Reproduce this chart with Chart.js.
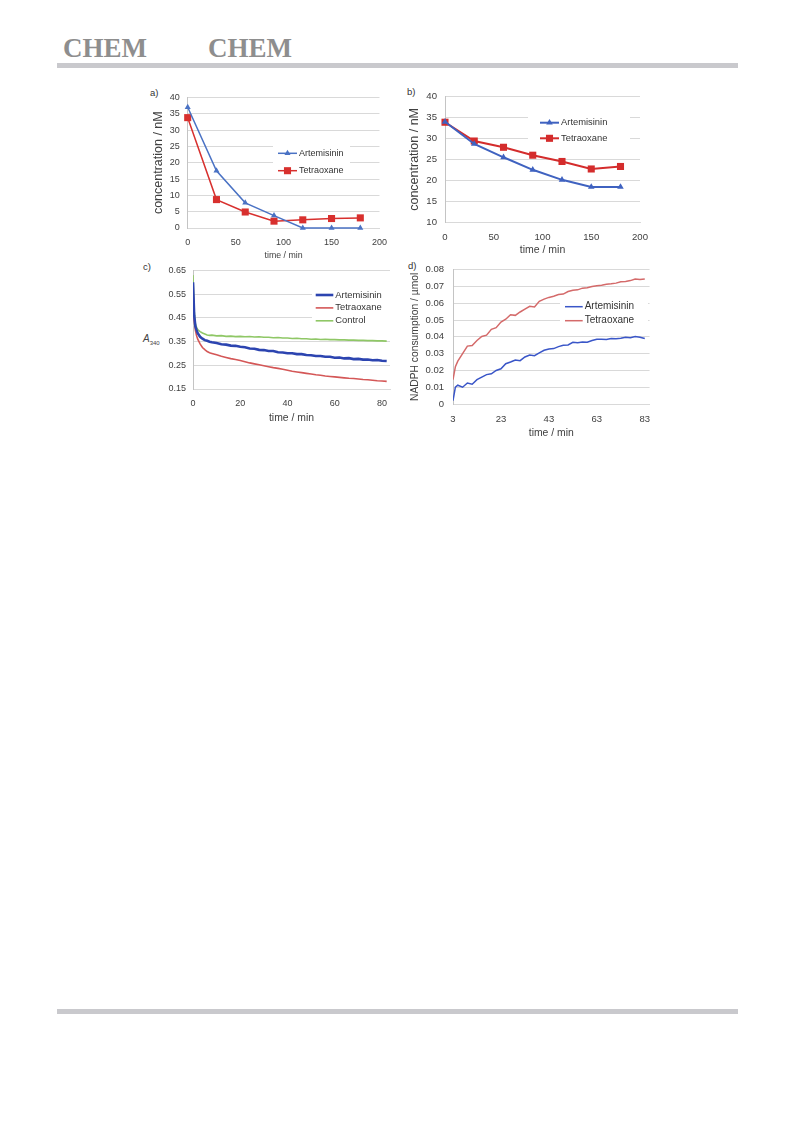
<!DOCTYPE html>
<html>
<head>
<meta charset="utf-8">
<script src="https://cdn.jsdelivr.net/npm/chart.js@4.4.1/dist/chart.umd.min.js"></script>
<style>
body { margin: 0; background: #fff; font-family: "Liberation Sans", Arial, sans-serif; }
#page { position: relative; width: 793px; height: 1121px; overflow: hidden; }
.hd { position: absolute; top: 35px; font: bold 27px/27px "Liberation Serif", serif; color: #8e8e8e; }
.bar { position: absolute; left: 57px; width: 681px; height: 5px; background: #c9c9cd; }
.pl { position: absolute; font-size: 9.5px; line-height: 10px; color: #333; }
canvas { position: absolute; }
</style>
</head>
<body>
<div id="page">
  <div class="hd" style="left:63px">CHEM</div>
  <div class="hd" style="left:208px">CHEM</div>
  <div class="bar" style="top:63px"></div>
  <div class="bar" style="top:1009px"></div>

  <div class="pl" style="left:150px;top:88px">a)</div>
  <div class="pl" style="left:407px;top:87px">b)</div>
  <div class="pl" style="left:143px;top:262px">c)</div>
  <div class="pl" style="left:408px;top:261px">d)</div>
  <div class="pl" style="left:143px;top:334px;font-size:10px;color:#444"><i>A</i><sub style="font-size:6px">340</sub></div>

  <canvas id="chart-a" width="256" height="177" style="left:140px;top:84px"></canvas>
  <canvas id="chart-b" width="260" height="177" style="left:400px;top:83px"></canvas>
  <canvas id="chart-c" width="260" height="172" style="left:140px;top:258px"></canvas>
  <canvas id="chart-d" width="260" height="190" style="left:400px;top:255px"></canvas>
</div>

<script>
// a) and b): concentration vs time
const timeAB = [0, 30, 60, 90, 120, 150, 180];
const artA = [37, 17.5, 7.7, 3.8, 0, 0, 0];
const tetA = [33.8, 8.7, 4.9, 2.1, 2.5, 2.9, 3.1];
const artB = [34, 28.7, 25.5, 22.5, 20.1, 18.4, 18.4];
const tetB = [33.9, 29.4, 27.9, 26, 24.5, 22.7, 23.3];

// c) A340 vs time
const timeC = [0, 0.5, 1, 1.5, 2, 3, 4, 5, 6, 7, 8, 10, 12, 14, 16, 18, 20, 22, 24, 26, 28, 30, 32, 34, 36, 38, 40,
	42, 44, 46, 48, 50, 52, 54, 56, 58, 60, 62, 64, 66, 68, 70, 72, 74, 76, 78, 80, 82];
const artC = [0.600, 0.460, 0.415, 0.398, 0.385, 0.370, 0.362, 0.356, 0.353, 0.349, 0.347, 0.344, 0.339, 0.337, 0.333, 0.332,
	0.328, 0.326, 0.321, 0.320, 0.315, 0.314, 0.310, 0.310, 0.305, 0.304, 0.301, 0.301, 0.297, 0.297, 0.293, 0.292, 0.289,
	0.289, 0.286, 0.286, 0.282, 0.283, 0.279, 0.280, 0.276, 0.277, 0.274, 0.274, 0.271, 0.272, 0.269, 0.268];
const tetC = [0.580, 0.440, 0.398, 0.375, 0.360, 0.340, 0.325, 0.316, 0.308, 0.303, 0.300, 0.294, 0.288, 0.283, 0.278, 0.274,
	0.270, 0.265, 0.260, 0.256, 0.252, 0.248, 0.244, 0.240, 0.237, 0.233, 0.229, 0.225, 0.222, 0.219, 0.216, 0.213, 0.210,
	0.208, 0.205, 0.203, 0.201, 0.199, 0.197, 0.195, 0.194, 0.192, 0.190, 0.189, 0.187, 0.185, 0.184, 0.182];
const ctlC = [0.630, 0.480, 0.425, 0.410, 0.400, 0.392, 0.386, 0.382, 0.378, 0.376, 0.377, 0.374, 0.375, 0.372, 0.373, 0.371,
	0.372, 0.370, 0.371, 0.369, 0.370, 0.368, 0.368, 0.366, 0.367, 0.365, 0.365, 0.363, 0.364, 0.362, 0.362, 0.360, 0.361,
	0.359, 0.360, 0.358, 0.358, 0.357, 0.357, 0.356, 0.356, 0.355, 0.355, 0.354, 0.354, 0.353, 0.353, 0.352];
const xTicksC = [0, 20, 40, 60, 80];
const yTicksC = [0.15, 0.25, 0.35, 0.45, 0.55, 0.65];

// d) NADPH consumption vs time
const timeD = [3, 4, 5, 7, 9, 11, 13, 15, 17, 19, 21, 23, 25, 27, 29, 31, 33, 35, 37, 39, 41, 43, 45, 47, 49, 51, 53,
	55, 57, 59, 61, 63, 65, 67, 69, 71, 73, 75, 77, 79, 81, 83];
const artD = [0.0020, 0.0100, 0.0112, 0.0100, 0.0125, 0.0118, 0.0145, 0.0160, 0.0175, 0.0180, 0.0200, 0.0210, 0.0240,
	0.0250, 0.0262, 0.0258, 0.0280, 0.0292, 0.0288, 0.0305, 0.0320, 0.0328, 0.0330, 0.0342, 0.0350, 0.0352, 0.0368,
	0.0365, 0.0370, 0.0368, 0.0378, 0.0385, 0.0386, 0.0384, 0.0390, 0.0388, 0.0392, 0.0398, 0.0395, 0.0402, 0.0398, 0.0390];
const tetD = [0.0145, 0.0222, 0.0255, 0.0300, 0.0345, 0.0348, 0.0378, 0.0402, 0.0410, 0.0445, 0.0455, 0.0488, 0.0505,
	0.0532, 0.0528, 0.0548, 0.0565, 0.0582, 0.0578, 0.0612, 0.0625, 0.0635, 0.0642, 0.0652, 0.0655, 0.0670, 0.0678,
	0.0680, 0.0690, 0.0693, 0.0700, 0.0705, 0.0708, 0.0713, 0.0716, 0.0720, 0.0728, 0.0730, 0.0735, 0.0745, 0.0742, 0.0745];
const xTicksD = [3, 23, 43, 63, 83];

const FONT = '"Liberation Sans", Arial, sans-serif';
const GRID = '#d9d9d9';
const TEXT = '#404040';

const pts = (xs, ys) => xs.map((x, i) => ({x: x, y: ys[i]}));

// legend drawn inside the plot, on a white box
const boxLegend = {
	id: 'boxLegend',
	beforeDatasetsDraw(chart, args, opts) {
		if (!opts.box) return;
		const ctx = chart.ctx;
		ctx.save();
		ctx.fillStyle = '#fff';
		ctx.fillRect(opts.box[0], opts.box[1], opts.box[2], opts.box[3]);
		ctx.restore();
	},
	afterDraw(chart, args, opts) {
		const ctx = chart.ctx;
		ctx.save();
		chart.data.datasets.forEach((ds, i) => {
			const y = opts.y + i * opts.gap;
			ctx.strokeStyle = ds.borderColor;
			ctx.lineWidth = ds.borderWidth;
			ctx.beginPath();
			ctx.moveTo(opts.x, y);
			ctx.lineTo(opts.x + opts.len, y);
			ctx.stroke();
			const cx = opts.x + opts.len / 2;
			ctx.fillStyle = ds.borderColor;
			if (ds.pointStyle === 'triangle') {
				const r = ds.pointRadius;
				ctx.beginPath();
				ctx.moveTo(cx, y - r);
				ctx.lineTo(cx + r * 0.866, y + r / 2);
				ctx.lineTo(cx - r * 0.866, y + r / 2);
				ctx.closePath();
				ctx.fill();
			} else if (ds.pointStyle === 'rect') {
				const s = ds.pointRadius * Math.SQRT1_2;
				ctx.fillRect(cx - s, y - s, 2 * s, 2 * s);
			}
			ctx.fillStyle = '#333';
			ctx.font = opts.size + 'px ' + FONT;
			ctx.textBaseline = 'middle';
			ctx.fillText(ds.label, opts.x + opts.len + 2, y);
		});
		ctx.restore();
	}
};

function scaleX(o) {
	return {
		type: 'linear',
		min: o.min, max: o.max,
		afterFit: s => { s.height = o.h; },
		afterBuildTicks: o.ticks ? (s => { s.ticks = o.ticks.map(v => ({value: v})); }) : undefined,
		grid: {drawOnChartArea: false, drawTicks: false},
		border: {color: GRID},
		ticks: {stepSize: o.step, padding: o.pad, color: TEXT, font: {family: FONT, size: o.font}, maxRotation: 0, autoSkip: false},
		title: {display: true, text: 'time / min', color: TEXT, padding: {top: 0, bottom: o.tpad}, font: {family: FONT, size: o.tfont}}
	};
}

function scaleY(o) {
	return {
		min: o.min, max: o.max,
		afterFit: s => { s.width = o.w; },
		afterBuildTicks: o.ticks ? (s => { s.ticks = o.ticks.map(v => ({value: v})); }) : undefined,
		grid: {color: GRID, drawTicks: false},
		border: {color: '#c4c4c4'},
		ticks: {stepSize: o.step, padding: o.pad, color: TEXT, font: {family: FONT, size: o.font}, callback: o.fmt},
		title: {display: !!o.text, text: o.text, color: TEXT, padding: {top: o.tpad, bottom: 0}, font: {family: FONT, size: o.tfont}}
	};
}

function baseOptions(pad, x, y, legend) {
	return {
		responsive: false,
		animation: false,
		layout: {padding: pad},
		elements: {line: {tension: 0}},
		plugins: {legend: {display: false}, tooltip: {enabled: false}, boxLegend: legend},
		scales: {x: x, y: y}
	};
}

document.addEventListener('DOMContentLoaded', () => {
	new Chart(document.getElementById('chart-a'), {
		type: 'line',
		data: {datasets: [
			{label: 'Artemisinin', data: pts(timeAB, artA), borderColor: '#4a72c4', backgroundColor: '#4a72c4',
				borderWidth: 1.5, pointStyle: 'triangle', pointRadius: 3.5, pointBorderWidth: 0, clip: false},
			{label: 'Tetraoxane', data: pts(timeAB, tetA), borderColor: '#d8302e', backgroundColor: '#d8302e',
				borderWidth: 1.5, pointStyle: 'rect', pointRadius: 5, pointBorderWidth: 0, clip: false}
		]},
		options: baseOptions({left: 0, top: 12.3, right: 0, bottom: 0},
			scaleX({min: 0, max: 200, step: 50, h: 33, pad: 9, font: 9, tfont: 8.8, tpad: 0}),
			scaleY({min: 0, max: 40, step: 5, w: 47.7, pad: 8, font: 9, text: 'concentration / nM', tfont: 12.5, tpad: 11.5}),
			{x: 138, y: 69.3, gap: 17.4, len: 19, size: 9, box: [133, 61, 77, 32]}),
		plugins: [boxLegend]
	});

	new Chart(document.getElementById('chart-b'), {
		type: 'line',
		data: {datasets: [
			{label: 'Artemisinin', data: pts(timeAB, artB), borderColor: '#3f62c0', backgroundColor: '#3f62c0',
				borderWidth: 2, pointStyle: 'triangle', pointRadius: 3.8, pointBorderWidth: 0, clip: false},
			{label: 'Tetraoxane', data: pts(timeAB, tetB), borderColor: '#d42c2c', backgroundColor: '#d42c2c',
				borderWidth: 2, pointStyle: 'rect', pointRadius: 5, pointBorderWidth: 0, clip: false}
		]},
		options: baseOptions({left: 0, top: 11.7, right: 20, bottom: 0},
			scaleX({min: 0, max: 200, step: 50, h: 38, pad: 9.2, font: 9.6, tfont: 10.5, tpad: 3.7}),
			scaleY({min: 10, max: 40, step: 5, w: 45, pad: 8, font: 9.6, text: 'concentration / nM', tfont: 12.5, tpad: 7.5}),
			{x: 140, y: 39.7, gap: 15.6, len: 19, size: 9.4, box: [128, 30, 102, 34]}),
		plugins: [boxLegend]
	});

	new Chart(document.getElementById('chart-c'), {
		type: 'line',
		data: {datasets: [
			{label: 'Artemisinin', data: pts(timeC, artC), borderColor: '#2c44b0', borderWidth: 2.6, pointRadius: 0},
			{label: 'Tetraoxane', data: pts(timeC, tetC), borderColor: '#d45757', borderWidth: 1.6, pointRadius: 0},
			{label: 'Control', data: pts(timeC, ctlC), borderColor: '#8fc766', borderWidth: 1.6, pointRadius: 0}
		]},
		options: baseOptions({left: 0, top: 10, right: 10, bottom: 0},
			scaleX({min: 0, max: 83.4, ticks: xTicksC, h: 41, pad: 9, font: 9, tfont: 10.4, tpad: 5.8}),
			scaleY({min: 0.15, max: 0.65, ticks: yTicksC, w: 53, pad: 7, font: 9, fmt: v => v.toFixed(2)}),
			{x: 175.7, y: 37, gap: 12.9, len: 17.6, size: 9.4, box: [172, 29, 78, 40]}),
		plugins: [boxLegend]
	});

	new Chart(document.getElementById('chart-d'), {
		type: 'line',
		data: {datasets: [
			{label: 'Artemisinin', data: pts(timeD, artD), borderColor: '#3a56c8', borderWidth: 1.5, pointRadius: 0},
			{label: 'Tetraoxane', data: pts(timeD, tetD), borderColor: '#d46a6a', borderWidth: 1.5, pointRadius: 0}
		]},
		options: baseOptions({left: 0, top: 10, right: 10, bottom: 0},
			scaleX({min: 3, max: 85, ticks: xTicksD, h: 41, pad: 9.7, font: 9.5, tfont: 10.4, tpad: 5.8}),
			scaleY({min: 0, max: 0.08, step: 0.01, w: 53, pad: 9, font: 9.5, text: 'NADPH consumption / \u00b5mol', tfont: 10.3, tpad: 8.8,
				fmt: v => v === 0 ? '0' : v.toFixed(2)}),
			{x: 165, y: 51.7, gap: 14, len: 17.7, size: 10, box: [160, 43, 88, 30]}),
		plugins: [boxLegend]
	});
});
</script>
</body>
</html>
